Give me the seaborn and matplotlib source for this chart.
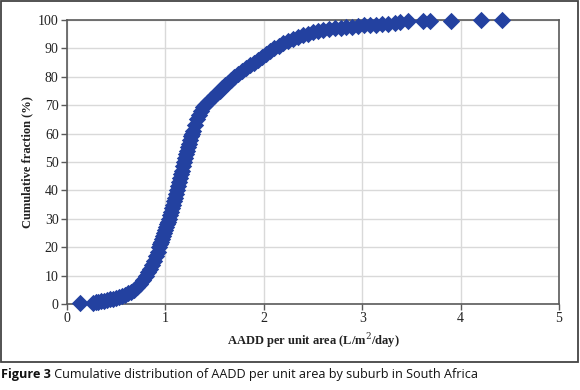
import matplotlib
matplotlib.use("Agg")
import matplotlib.pyplot as plt
import seaborn as sns
import pandas as pd
from matplotlib.patches import Rectangle

# AADD per unit area (L/m2/day), sorted, and cumulative fraction (%)
aadd = [0.13, 0.26, 0.29, 0.32, 0.35, 0.38, 0.41, 0.44, 0.47, 0.50,
        0.53, 0.56, 0.59, 0.62, 0.65, 0.68, 0.71, 0.74, 0.77, 0.80,
        0.82, 0.84, 0.86, 0.88, 0.90, 0.92, 0.94, 0.95, 0.96, 0.97,
        0.98, 0.99, 1.00, 1.01, 1.02, 1.03, 1.04, 1.05, 1.06, 1.07,
        1.08, 1.09, 1.10, 1.11, 1.12, 1.13, 1.14, 1.15, 1.16, 1.17,
        1.18, 1.19, 1.20, 1.21, 1.22, 1.23, 1.24, 1.25, 1.26, 1.27,
        1.28, 1.30, 1.32, 1.34, 1.36, 1.38, 1.40, 1.43, 1.46, 1.49,
        1.52, 1.55, 1.58, 1.61, 1.64, 1.67, 1.70, 1.74, 1.78, 1.82,
        1.86, 1.90, 1.94, 1.98, 2.02, 2.06, 2.10, 2.15, 2.20, 2.25,
        2.30, 2.35, 2.40, 2.45, 2.50, 2.55, 2.60, 2.66, 2.72, 2.78,
        2.84, 2.90, 2.96, 3.02, 3.08, 3.14, 3.20, 3.26, 3.33, 3.38,
        3.47, 3.62, 3.69, 3.90, 4.21, 4.42]
cum_pct = [0.3, 0.5, 0.6, 0.8, 1.0, 1.2, 1.4, 1.6, 1.8, 2.0,
           2.3, 2.7, 3.2, 3.7, 4.3, 5.0, 6.0, 7.2, 8.6, 10.0,
           11.2, 12.4, 13.7, 15.2, 16.8, 18.4, 20.0, 21.0, 22.0, 23.0,
           24.0, 25.0, 26.0, 27.0, 28.0, 29.0, 30.0, 31.2, 32.5, 33.8,
           35.0, 36.2, 37.5, 38.8, 40.0, 41.4, 42.8, 44.2, 45.6, 47.0,
           48.5, 50.0, 51.4, 52.8, 54.0, 55.2, 56.5, 57.8, 59.0, 60.0,
           61.0, 63.0, 65.0, 66.6, 68.0, 69.2, 70.2, 71.2, 72.2, 73.2,
           74.2, 75.0, 76.0, 77.0, 77.9, 78.9, 80.0, 81.0, 82.0, 83.0,
           84.0, 85.0, 86.0, 87.0, 88.0, 89.0, 90.0, 91.0, 91.9, 92.6,
           93.3, 94.0, 94.7, 95.2, 95.7, 96.1, 96.5, 96.8, 97.1, 97.3,
           97.5, 97.7, 97.9, 98.1, 98.3, 98.4, 98.5, 98.7, 99.0, 99.3,
           99.5, 99.6, 99.7, 99.8, 99.9, 100.0]

df = pd.DataFrame({"aadd": aadd, "cum": cum_pct})

sns.set_theme(style="whitegrid")
serif = ["Liberation Serif", "DejaVu Serif"]

fig = plt.figure(figsize=(5.8, 3.9), dpi=100)
fig.patch.set_facecolor("white")
ax = fig.add_axes([67 / 580, 86 / 390, 492 / 580, 284 / 390])

sns.scatterplot(data=df, x="aadd", y="cum", marker="D", s=78, color="#2341A0",
                edgecolor="#2341A0", linewidth=0, ax=ax, clip_on=False, zorder=3)

ax.set_xlim(0, 5)
ax.set_ylim(0, 100)
ax.set_xticks(range(0, 6))
ax.set_yticks(range(0, 101, 10))
ax.grid(True, color="#d9d9d9", linewidth=1)
ax.set_axisbelow(True)
for side, sp in ax.spines.items():
    sp.set_color("#5a5a5a")
    sp.set_linewidth(1.2)
    sp.set_zorder(2)
ax.tick_params(axis="both", which="major", direction="out", length=4, width=1,
               color="#5a5a5a", labelsize=10, pad=2, bottom=True, left=True)
for lab in ax.get_xticklabels() + ax.get_yticklabels():
    lab.set_family(serif)
    lab.set_color("#222222")

ax.set_xlabel("AADD per unit area (L/m$^2$/day)", family=serif, fontsize=9,
              fontweight="bold", color="#222222", labelpad=4)
ax.set_ylabel("Cumulative fraction (%)", family=serif, fontsize=9,
              fontweight="bold", color="#222222", labelpad=3)
ax.xaxis.label.set_math_fontfamily("dejavuserif")

# outer frame around the chart
fig.patches.append(Rectangle((1 / 580, 28 / 390), 577 / 580, 361 / 390,
                             transform=fig.transFigure, fill=False,
                             edgecolor="#444444", linewidth=1.3))

cap_font = ["Open Sans", "DejaVu Sans"]
t1 = fig.text(1 / 580, 12 / 390, "Figure 3", family=cap_font, fontsize=9.1,
              fontweight="bold", color="#111111", va="baseline")
ax.annotate(" Cumulative distribution of AADD per unit area by suburb in South Africa",
            xy=(1, 0), xycoords=t1, va="bottom", ha="left", family=cap_font,
            fontsize=9.1, color="#111111", annotation_clip=False)

fig.savefig("out.png", dpi=100, facecolor="white")
